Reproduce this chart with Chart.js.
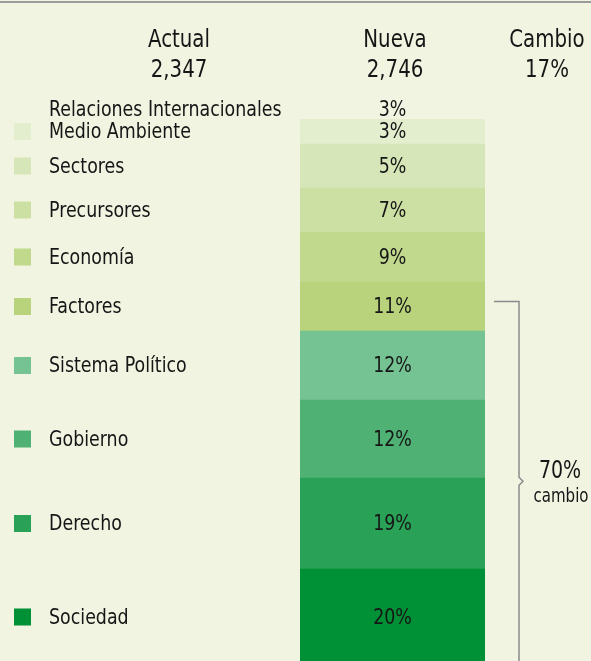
<!DOCTYPE html>
<html lang="es">
<head>
<meta charset="utf-8">
<title>Actual vs. Nueva</title>
<script src="https://cdn.jsdelivr.net/npm/chart.js@4.4.1/dist/chart.umd.min.js"></script>
<style>
  html, body { margin: 0; padding: 0; background: #f0f4e1; overflow: hidden; }
  #wrap { width: 591px; height: 661px; overflow: hidden; }
</style>
</head>
<body>
<div id="wrap"><canvas id="chart" width="591" height="665"></canvas></div>
<script>
// ---------------- Daten ----------------
const categories = ['Relaciones Internacionales', 'Medio Ambiente', 'Sectores', 'Precursores', 'Economía',
                    'Factores', 'Sistema Político', 'Gobierno', 'Derecho', 'Sociedad'];
const shareLabels = ['3%', '3%', '5%', '7%', '9%', '11%', '12%', '12%', '19%', '20%'];
// Höhe der Segmente so wie gezeichnet (relative Einheiten, aus dem Bild gelesen)
const segmentSize = [0, 25, 44, 44, 50, 49, 69, 78, 91, 96];
const colors = ['#f0f4e1', '#e2eecd', '#d6e6b8', '#cde0a3', '#c1d98c',
                '#b8d37c', '#75c393', '#4fb173', '#29a157', '#009036'];

const headerTitles = ['Actual', 'Nueva', 'Cambio'];
const headerValues = ['2,347', '2,746', '17%'];

// Klammer: von "Factores" bis "Sociedad"
const bracketFrom = 5;
const bracketText = ['70%', 'cambio'];

// ---------------- Datasets (unten = zuerst) ----------------
const n = categories.length;
const datasets = [];
for (let i = n - 1; i >= 0; i--) {
  datasets.push({
    label: categories[i],
    data: [segmentSize[i]],
    backgroundColor: colors[i],
    borderWidth: 0,
    barPercentage: 1,
    categoryPercentage: 1
  });
}
const total = segmentSize.reduce((a, b) => a + b, 0);

const FONT = '"DejaVu Sans Condensed", "DejaVu Sans", sans-serif';
const SQUEEZE = 0.88; // schmalere Schrift nachahmen

// Text horizontal gestaucht zeichnen
function narrowText(ctx, text, x, y, size, align) {
  ctx.save();
  ctx.translate(x, y);
  ctx.scale(SQUEEZE, 1);
  ctx.font = size + 'px ' + FONT;
  ctx.textAlign = align;
  ctx.fillText(text, 0, 0);
  ctx.restore();
}

// ---------------- Beschriftungen ----------------
const overlay = {
  id: 'overlay',
  afterDraw(chart) {
    const ctx = chart.ctx;
    ctx.save();

    // obere Linie
    ctx.strokeStyle = '#9b9b9b';
    ctx.lineWidth = 2;
    ctx.beginPath(); ctx.moveTo(0, 2); ctx.lineTo(591, 2); ctx.stroke();

    // Kopfzeile
    const headX = [179, 395, 547];
    ctx.fillStyle = '#161616';
    ctx.textBaseline = 'alphabetic';
    headerTitles.forEach((t, i) => {
      narrowText(ctx, t, headX[i], 47, 25, 'center');
      narrowText(ctx, headerValues[i], headX[i], 77, 25, 'center');
    });

    // Legende + Prozentwerte
    const centers = [];
    for (let i = 0; i < n; i++) {
      const bar = chart.getDatasetMeta(n - 1 - i).data[0];
      const p = bar.getProps(['x', 'y', 'base'], true);
      let cy = (p.y + p.base) / 2;
      if (segmentSize[i] === 0) cy = p.y - 10;
      centers.push({ x: p.x, cy });

      ctx.fillStyle = colors[i];
      ctx.fillRect(14, cy - 8.5, 17, 17);

      ctx.fillStyle = '#161616';
      ctx.textBaseline = 'middle';
      narrowText(ctx, categories[i], 49, cy + 1, 22, 'left');
      narrowText(ctx, shareLabels[i], p.x, cy + 1, 22, 'center');
    }

    // Klammer
    const top = centers[bracketFrom].cy - 5;
    const bottom = 661;
    const mid = (top + bottom) / 2;
    ctx.strokeStyle = '#8a8a8a';
    ctx.lineWidth = 1.5;
    ctx.beginPath();
    ctx.moveTo(494, top); ctx.lineTo(519, top);
    ctx.lineTo(519, mid - 4); ctx.lineTo(523, mid); ctx.lineTo(519, mid + 4);
    ctx.lineTo(519, bottom + 10);
    ctx.stroke();

    ctx.fillStyle = '#161616';
    ctx.textBaseline = 'alphabetic';
    narrowText(ctx, bracketText[0], 560, mid - 3, 24, 'center');
    narrowText(ctx, bracketText[1], 561, mid + 21, 19, 'center');

    ctx.restore();
  }
};

new Chart(document.getElementById('chart'), {
  type: 'bar',
  data: { labels: [''], datasets },
  options: {
    responsive: false,
    animation: false,
    layout: { padding: { left: 300, right: 106, top: 119, bottom: 0 } },
    plugins: { legend: { display: false }, tooltip: { enabled: false } },
    scales: {
      x: { stacked: true, display: false },
      y: { stacked: true, display: false, min: 0, max: total }
    }
  },
  plugins: [overlay]
});
</script>
</body>
</html>
